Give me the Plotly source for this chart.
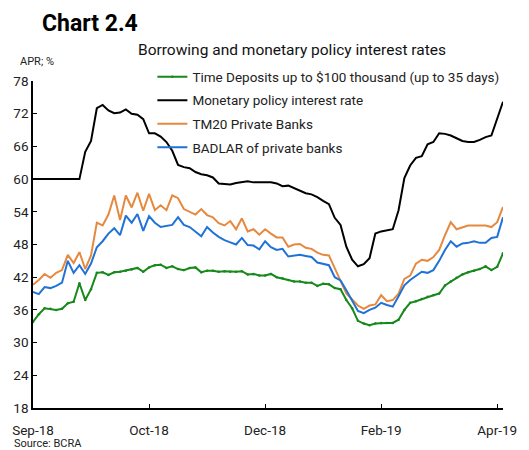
import plotly.graph_objects as go

# Business-day index (every second trading day), Sep-18 .. Apr-19
day_index = list(range(0, 163, 2))

tick_positions = [0, 40, 80, 120, 160]
tick_labels = ["Sep-18", "Oct-18", "Dec-18", "Feb-19", "Apr-19"]

# Monetary policy interest rate (LELIQ), APR %
policy_rate = [
    60.0, 60.0, 60.0, 60.0, 60.0, 60.0, 60.0, 60.0, 60.0, 65.0,
    67.0, 73.0, 73.6, 72.6, 72.1, 72.2, 72.8, 72.0, 71.8, 71.0,
    68.4, 68.4, 67.8, 66.8, 65.2, 62.6, 62.2, 62.0, 61.3, 60.9,
    60.7, 60.3, 59.2, 59.1, 59.0, 59.3, 59.4, 59.6, 59.4, 59.4,
    59.5, 59.4, 59.2, 58.7, 58.8, 58.3, 57.9, 57.4, 57.2, 56.7,
    56.0, 55.4, 52.9, 51.6, 47.6, 45.2, 44.0, 44.4, 45.5, 50.0,
    50.4, 50.6, 50.8, 54.3, 60.2, 62.5, 63.9, 64.2, 66.4, 66.8,
    68.4, 68.3, 68.0, 67.5, 67.0, 66.8, 66.8, 67.2, 67.7, 68.0,
    71.2, 74.2,
]

# TM20 private banks, APR %
tm20 = [
    40.6, 41.5, 42.6, 41.9, 42.8, 43.3, 46.1, 44.6, 46.6, 43.5,
    46.0, 52.0, 51.5, 53.5, 57.0, 52.5, 57.0, 54.8, 57.5, 54.2,
    57.3, 54.3, 55.2, 54.3, 57.0, 56.5, 54.5, 54.0, 53.5, 54.5,
    53.4, 53.0, 51.9, 51.5, 52.3, 50.8, 52.8, 50.4, 50.8, 49.8,
    50.8, 50.0, 49.3, 49.3, 47.6, 48.0, 48.1, 47.4, 47.2, 46.5,
    46.1, 46.0, 43.6, 41.5, 39.0, 37.9, 36.8, 36.2, 36.8, 37.0,
    38.7, 37.6, 37.8, 39.0, 41.7, 42.3, 44.5, 45.2, 45.0, 45.7,
    47.0, 49.7, 52.1, 50.8, 51.2, 51.5, 51.5, 51.5, 51.5, 51.2,
    52.1, 54.9,
]

# BADLAR of private banks, APR %
badlar = [
    39.3, 38.9, 40.2, 40.0, 40.4, 41.0, 45.0, 42.8, 44.2, 42.6,
    44.5, 47.5, 48.6, 50.0, 51.0, 49.7, 53.3, 52.0, 53.6, 50.5,
    53.2, 52.0, 51.2, 51.4, 51.6, 53.0, 51.6, 51.2, 50.4, 49.5,
    51.2, 50.2, 49.4, 48.8, 48.4, 48.0, 49.2, 47.9, 47.8, 47.1,
    48.6, 47.5, 47.0, 47.2, 45.8, 46.0, 46.1, 45.9, 45.7, 44.7,
    44.4, 44.2, 42.0, 41.4, 39.6, 37.6, 35.8, 35.4, 36.0, 36.4,
    37.3, 36.9, 36.6, 38.5, 40.5, 41.5, 42.3, 43.0, 42.8, 43.3,
    45.0, 47.0, 48.6, 47.6, 48.2, 48.3, 48.6, 48.3, 48.3, 49.2,
    49.4, 53.0,
]

# Time deposits up to $100 thousand (up to 35 days), APR %
time_deposits = [
    33.8, 35.2, 36.3, 36.2, 36.0, 36.2, 37.2, 37.5, 40.9, 37.8,
    39.8, 42.8, 42.9, 42.4, 42.9, 43.0, 43.2, 43.4, 43.7, 43.0,
    43.8, 44.2, 44.3, 43.7, 44.0, 43.5, 43.3, 43.7, 43.8, 42.9,
    43.2, 43.2, 43.0, 43.1, 43.0, 43.0, 43.1, 42.5, 42.6, 42.3,
    42.3, 42.6, 42.0, 41.8, 41.5, 41.2, 41.2, 41.0, 41.0, 40.4,
    40.8, 40.7, 40.0, 39.8, 37.8, 36.3, 34.0, 33.5, 33.2, 33.5,
    33.6, 33.6, 33.6, 34.2, 36.0, 37.3, 37.6, 38.0, 38.4, 38.7,
    39.0, 40.5, 41.2, 41.9, 42.5, 42.9, 43.2, 43.5, 44.0, 43.3,
    43.9, 46.4,
]

GREEN = "#16891a"
BLACK = "#000000"
ORANGE = "#e6893f"
BLUE = "#1f72d6"

fig = go.Figure()
fig.add_trace(go.Scatter(
    x=day_index, y=time_deposits, mode="lines+markers",
    name="Time Deposits up to $100 thousand (up to 35 days)",
    line=dict(color=GREEN, width=2), marker=dict(size=2.5, color=GREEN),
    legendgroup="a",
))
fig.add_trace(go.Scatter(
    x=day_index, y=policy_rate, mode="lines",
    name="Monetary policy interest rate",
    line=dict(color=BLACK, width=2), legendgroup="b",
))
fig.add_trace(go.Scatter(
    x=day_index, y=tm20, mode="lines",
    name="TM20 Private Banks",
    line=dict(color=ORANGE, width=2), legendgroup="c",
))
fig.add_trace(go.Scatter(
    x=day_index, y=badlar, mode="lines",
    name="BADLAR of private banks",
    line=dict(color=BLUE, width=2), legendgroup="d",
))

FONT = "Roboto, Arial, sans-serif"

fig.update_layout(
    width=529, height=450,
    margin=dict(l=33, r=18, t=81, b=42),
    paper_bgcolor="white", plot_bgcolor="white",
    font=dict(family=FONT, size=13, color="#222222"),
    showlegend=True,
    legend=dict(
        x=0.254, y=1.06, xanchor="left", yanchor="top",
        bgcolor="rgba(0,0,0,0)", font=dict(size=13.5, color="#222222"),
        traceorder="grouped", tracegroupgap=3,
    ),
    xaxis=dict(
        range=[0, 162], tickmode="array",
        tickvals=tick_positions, ticktext=tick_labels,
        showgrid=False, zeroline=False,
        showline=True, linecolor="black", linewidth=1.5,
        ticks="inside", ticklen=4, tickcolor="black",
        ticklabelstandoff=9, tickfont=dict(size=13.5),
    ),
    yaxis=dict(
        range=[18, 78], tickmode="array",
        tickvals=[18, 24, 30, 36, 42, 48, 54, 60, 66, 72, 78],
        showgrid=False, zeroline=False,
        showline=True, linecolor="black", linewidth=1.5,
        ticks="inside", ticklen=4, tickcolor="black",
        tickfont=dict(size=13.5),
    ),
    annotations=[
        dict(text="<b>Chart 2.4</b>", xref="paper", yref="paper",
             x=0.0146, y=1.175, xanchor="left", yanchor="middle",
             showarrow=False,
             font=dict(family=FONT, size=23, color="black")),
        dict(text="Borrowing and monetary policy interest rates",
             xref="paper", yref="paper", x=0.552, y=1.095,
             xanchor="center", yanchor="middle", showarrow=False,
             font=dict(size=15.5, color="#111111")),
        dict(text="APR; %", xref="paper", yref="paper",
             x=-0.031, y=1.061, xanchor="left", yanchor="middle",
             showarrow=False, font=dict(size=11, color="#222222")),
        dict(text="Source: BCRA", xref="paper", yref="paper",
             x=-0.044, y=-0.108, xanchor="left", yanchor="middle",
             showarrow=False, font=dict(size=11, color="#222222")),
    ],
)

fig.write_html("out.html")
